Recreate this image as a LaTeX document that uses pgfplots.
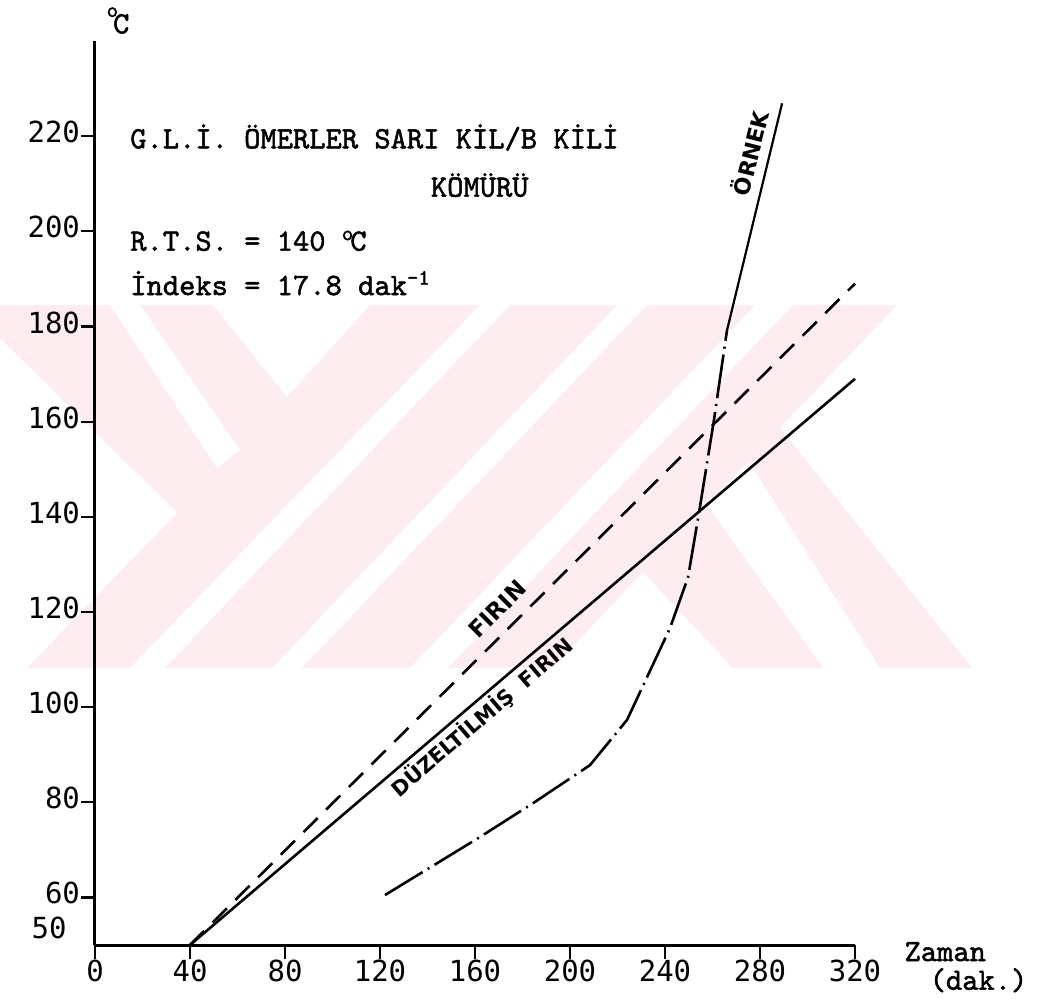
\documentclass[border=0pt]{standalone}
\usepackage{fontspec}
\newfontfamily\tickfont{DejaVu Sans Mono}
\newfontfamily\lblfont{DejaVu Sans}
\newfontfamily\twfont[FakeBold=1.6]{lmmono10-regular.otf}
\usepackage{pgfplots}
\pgfplotsset{compat=1.18}
\definecolor{wmpink}{RGB}{253,237,241}
\begin{document}
\begin{tikzpicture}
% background watermark (decoration, in picture pixels: 1px = 0.5pt)
\begin{scope}[x=0.5pt, y=-0.5pt, shift={(-47.5pt,472.5pt)}]
  \fill[wmpink] (0,305) -- (480,305) -- (130,668) -- (27,668) -- (177,513) -- (0,338) -- cycle;
  \fill[white] (110,305) -- (140,305) -- (240,450) -- (217,468) -- cycle;
  \fill[white] (213,305) -- (370,305) -- (287,397) -- cycle;
  \fill[wmpink] (510,305) -- (617,305) -- (272,668) -- (165,668) -- cycle;
  \fill[wmpink] (647,305) -- (755,305) -- (410,668) -- (302,668) -- cycle;
  \fill[wmpink] (793,305) -- (897,305) -- (552,668) -- (448,668) -- cycle;
  \fill[wmpink] (707,505) -- (823,668) -- (733,668) -- (643,572) -- cycle;
  \fill[wmpink] (780,428) -- (972,668) -- (880,668) -- (749,462) -- cycle;
\end{scope}
\begin{axis}[
  at={(0pt,0pt)}, anchor=south west,
  width=380pt, height=452pt, scale only axis,
  xmin=0, xmax=320, ymin=50, ymax=240,
  axis x line*=bottom, axis y line*=left,
  axis line style={line width=1.5pt,-},
  xtick={0,40,80,120,160,200,240,280,320},
  ytick={60,80,100,120,140,160,180,200,220},
  tick align=outside, major tick length=7pt,
  tick style={line width=1.1pt,black},
  tick label style={font=\tickfont\fontsize{14.5}{14.5}\selectfont},
  xticklabel style={yshift=3pt},
  yticklabel style={xshift=3pt, yshift=2pt},
  /pgf/number format/assume math mode=true,
  clip=false,
]
% Duzeltilmis firin
\addplot[black, line width=1.3pt] coordinates {(40,50) (320,169)};
% Firin
\addplot[black, line width=1.3pt, dash pattern=on 10pt off 6pt] coordinates {(40,50) (320,189)};
% Ornek (dash-dot part)
\addplot[black, line width=1.3pt, dash pattern=on 22pt off 3pt on 1pt off 3pt] coordinates {
(122.1,60.5) (162.1,72.7) (184.4,79.8) (208.4,87.8) (224,97.3) (242.1,116.6) (249.7,127.3) (254.3,140.8) (260.6,160.3) (266.1,179.2)};
% Ornek (solid upper part)
\addplot[black, line width=1.1pt] coordinates {(266.1,179.2) (289.3,226.9)};

\node[font=\twfont\fontsize{15.5}{15.5}\selectfont, anchor=west, inner sep=0pt] at (axis cs:14.7,219.7) {G.L.İ. ÖMERLER SARI KİL/B KİLİ};
\node[font=\twfont\fontsize{15.5}{15.5}\selectfont] at (axis cs:162,209.7) {KÖMÜRÜ};
\node[font=\twfont\fontsize{15.5}{15.5}\selectfont, anchor=west, inner sep=0pt] at (axis cs:14.7,198) {R.T.S. = 140 \textsuperscript{o}\kern-2pt C};
\node[font=\twfont\fontsize{15.5}{15.5}\selectfont, anchor=west, inner sep=0pt] at (axis cs:14.7,189.1) {İndeks = 17.8 dak\textsuperscript{-1}};
\node[font=\twfont\fontsize{15.5}{15.5}\selectfont] at (axis cs:9.7,244.3) {\textsuperscript{o}\kern-3pt\raisebox{-3pt}{C}};
\node[font=\twfont\fontsize{15.5}{15.5}\selectfont] at (axis cs:358,48.6) {Zaman};
\node[font=\twfont\fontsize{15.5}{15.5}\selectfont] at (axis cs:372,42.6) {(dak.)};
\node[font=\tickfont\fontsize{14.5}{14.5}\selectfont, anchor=east] at (axis cs:-9,53.6) {50};
\node[font=\lblfont\bfseries\fontsize{11.5}{11.5}\selectfont, rotate=45] at (axis cs:169.3,120.6) {FIRIN};
\node[font=\lblfont\bfseries\fontsize{10.5}{10.5}\selectfont, rotate=40.5] at (axis cs:163,97.9) {DÜZELTİLMİŞ\ \ FIRIN};
\node[font=\lblfont\bfseries\fontsize{11}{11}\selectfont, rotate=76] at (axis cs:275.5,216.5) {ÖRNEK};
\coordinate (SW) at (rel axis cs:0,0);
\end{axis}
\pgfresetboundingbox
\path (SW) ++(-47.5pt,-26.5pt) rectangle ++(526pt,499pt);
\end{tikzpicture}
\end{document}
